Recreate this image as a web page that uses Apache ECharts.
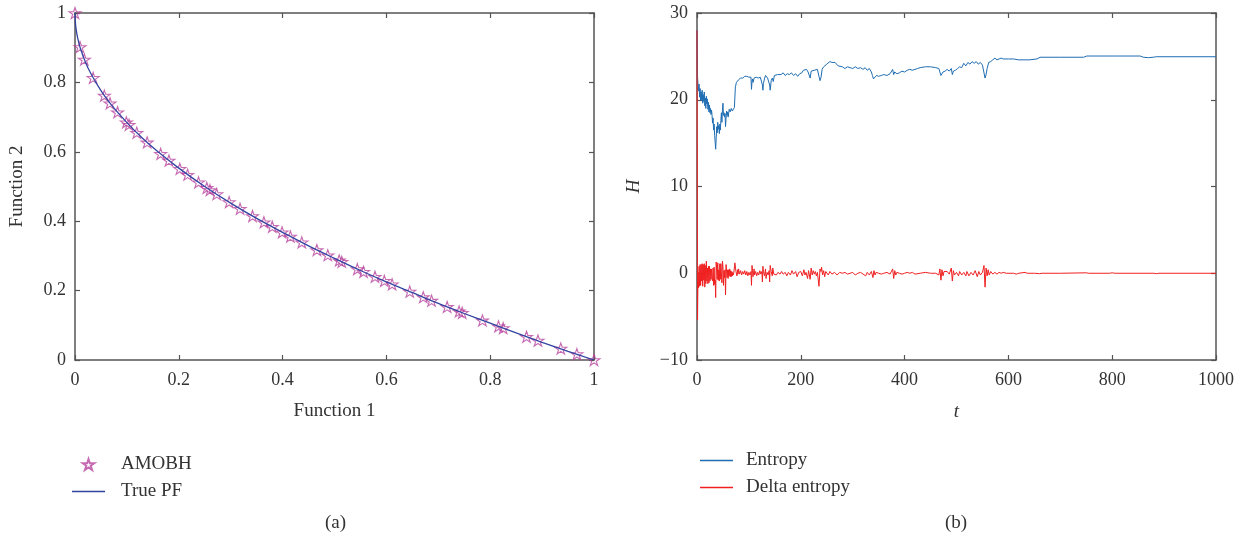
<!DOCTYPE html>
<html>
<head>
<meta charset="utf-8">
<script src="https://cdn.jsdelivr.net/npm/echarts@6/dist/echarts.min.js"></script>
<style>
  html, body { margin: 0; padding: 0; background: #fff; }
  #chart { width: 1245px; height: 542px; }
</style>
</head>
<body>
<div id="chart"></div>
<script>
// ---- Panel (a): Pareto front, Function 1 vs Function 2 ----
const amobhF1 = [0, 0.0096, 0.018, 0.035, 0.0565, 0.0674, 0.082, 0.099, 0.104, 0.119,
  0.139, 0.165, 0.181, 0.202, 0.217, 0.238, 0.254, 0.260, 0.273, 0.297,
  0.318, 0.342, 0.364, 0.380, 0.399, 0.415, 0.437, 0.466, 0.487, 0.509,
  0.514, 0.544, 0.556, 0.578, 0.596, 0.611, 0.645, 0.671, 0.687, 0.717,
  0.740, 0.746, 0.785, 0.816, 0.825, 0.870, 0.892, 0.936, 0.967, 1.0];
const amobhF2 = [1.000, 0.902, 0.866, 0.813, 0.762, 0.740, 0.714, 0.685, 0.678, 0.655,
  0.627, 0.594, 0.575, 0.551, 0.534, 0.512, 0.496, 0.490, 0.478, 0.455,
  0.436, 0.415, 0.397, 0.384, 0.368, 0.356, 0.339, 0.317, 0.302, 0.287,
  0.283, 0.262, 0.254, 0.240, 0.228, 0.218, 0.197, 0.181, 0.171, 0.153,
  0.140, 0.136, 0.114, 0.097, 0.092, 0.067, 0.056, 0.033, 0.017, 0.000];

const truePfF1 = [0, 0.0005, 0.002, 0.005, 0.01, 0.02, 0.03, 0.05, 0.07, 0.1, 0.13, 0.16,
  0.2, 0.25, 0.3, 0.35, 0.4, 0.45, 0.5, 0.55, 0.6, 0.65, 0.7, 0.75, 0.8, 0.85, 0.9, 0.95, 1];
const truePfF2 = [1, 0.978, 0.955, 0.929, 0.900, 0.859, 0.827, 0.776, 0.735, 0.684, 0.639, 0.600,
  0.553, 0.500, 0.452, 0.408, 0.368, 0.329, 0.293, 0.258, 0.225, 0.194, 0.163, 0.134, 0.106, 0.078, 0.051, 0.025, 0];

const f1Ticks = [0, 0.2, 0.4, 0.6, 0.8, 1];
const f2Ticks = [0, 0.2, 0.4, 0.6, 0.8, 1];

// ---- Panel (b): entropy H over iterations t ----
const entropy = [[0,28.0],[1,22.6],[2,22.7],[3,21.0],[4,21.8],[5,20.3],[6,21.3],[7,19.9],[8,20.9],[9,20.0],
  [10,21.1],[11,19.6],[12,20.6],[13,19.8],[14,20.9],[15,19.3],[16,20.2],[17,19.0],[18,20.4],[19,19.5],
  [20,20.1],[21,18.9],[22,19.7],[23,18.6],[24,19.4],[25,18.5],[26,19.0],[27,18.3],[28,18.8],[29,18.2],
  [30,17.3],[31,17.9],[32,16.5],[33,17.2],[34,15.9],[35,15.1],[36,14.3],[37,15.6],[38,16.9],[39,16.2],
  [40,17.4],[41,16.6],[42,17.0],[43,16.1],[44,17.2],[45,16.5],[46,17.6],[47,18.5],[48,17.4],[49,18.8],
  [50,19.6],[51,18.2],[52,18.5],[53,18.0],[54,18.4],[55,16.9],[56,17.9],[57,18.7],[58,18.2],[59,18.6],
  [60,18.0],[62,18.9],[64,18.6],[66,19.0],[68,18.7],[70,18.9],[72,19.1],[73,20.3],[74,21.5],[75,21.7],
  [76,22.0],[78,21.8],[80,22.3],[82,22.2],[84,22.5],[86,22.3],[88,22.5],[90,22.4],[92,22.7],[94,22.5],
  [96,22.7],[98,22.5],[100,22.6],[102,22.4],[104,22.6],[105,21.2],[106,22.1],[107,22.4],[108,22.0],[110,22.5],
  [112,22.4],[114,22.6],[116,22.4],[118,22.5],[120,22.7],[122,22.6],[124,22.7],[126,21.7],[127,21.1],[128,21.9],
  [130,22.4],[132,22.8],[134,22.6],[136,22.5],[138,22.7],[140,21.7],[141,21.1],[143,22.2],[145,22.5],[147,22.1],
  [149,22.8],[152,23.0],[155,22.9],[158,23.1],[162,22.9],[166,23.1],[170,22.8],[174,23.0],[178,22.9],[182,23.1],
  [186,22.8],[190,23.0],[194,22.7],[198,23.0],[202,23.1],[205,23.4],[208,23.3],[211,23.5],[214,23.2],[216,23.4],
  [218,22.5],[220,23.3],[223,23.5],[226,23.4],[229,23.6],[232,23.5],[235,22.7],[237,22.2],[239,22.6],[241,23.5],
  [244,23.8],[247,23.9],[250,24.1],[253,24.3],[256,24.4],[260,24.3],[263,24.5],[266,24.3],[269,24.4],[272,23.9],
  [275,23.7],[280,23.8],[285,23.6],[290,23.8],[295,23.7],[300,23.6],[305,23.8],[310,23.6],[315,23.7],[320,23.5],
  [324,23.7],[328,23.4],[332,23.6],[336,23.2],[338,22.8],[340,22.4],[343,22.6],[346,22.8],[350,22.7],[355,22.8],
  [360,22.9],[366,22.8],[372,23.0],[377,23.5],[379,22.9],[381,23.2],[385,23.0],[390,23.1],[395,23.3],[400,23.2],
  [405,23.4],[410,23.5],[415,23.4],[420,23.5],[425,23.6],[430,23.7],[440,23.8],[450,23.8],[460,23.7],[466,23.6],
  [468,23.8],[470,22.8],[472,22.7],[474,23.2],[478,23.3],[482,23.5],[486,23.3],[490,23.6],[492,22.9],[494,23.3],
  [498,23.4],[502,23.6],[506,23.8],[510,23.7],[514,24.2],[518,23.9],[522,24.3],[526,24.1],[530,24.4],[534,24.2],
  [538,24.4],[542,24.1],[546,24.3],[550,24.0],[553,24.2],[555,22.5],[557,22.9],[559,23.6],[562,24.3],[566,24.4],
  [570,24.6],[574,24.8],[578,24.6],[582,24.7],[586,24.8],[590,24.7],[600,24.7],[610,24.7],[620,24.6],[630,24.6],
  [640,24.6],[655,24.7],[661,24.9],[700,24.9],[745,24.9],[751,25.04],[800,25.04],[854,25.04],[860,24.9],[870,24.85],
  [879,24.9],[885,24.96],[1000,24.96]];

const deltaEntropy = [[0,28.0],[1,-5.4],[2,0.1],[3,-1.7],[4,0.8],[5,-1.5],[6,1.0],[7,-1.4],[8,1.0],[9,-0.9],
  [10,1.1],[11,-1.5],[12,1.0],[13,-0.8],[14,1.1],[15,-1.6],[16,0.9],[17,-1.2],[18,1.4],[19,-0.9],
  [20,0.6],[21,-1.2],[22,0.8],[23,-1.1],[24,0.8],[25,-0.9],[26,0.5],[27,-0.7],[28,0.5],[29,-0.6],
  [30,-0.9],[31,0.6],[32,-1.4],[33,0.7],[34,-1.3],[35,-0.8],[36,-2.8],[37,1.3],[38,1.3],[39,-0.7],
  [40,1.2],[41,-0.8],[42,0.4],[43,-0.9],[44,1.1],[45,-0.7],[46,1.1],[47,0.9],[48,-1.1],[49,1.4],
  [50,0.8],[51,-1.4],[52,0.3],[53,-0.5],[54,0.4],[55,-2.5],[56,1.0],[57,0.8],[58,-0.5],[59,0.4],
  [60,-0.6],[61,0.4],[62,-0.3],[63,0.5],[64,-0.4],[65,0.3],[66,-0.4],[67,0.2],[68,-0.3],[69,0.1],
  [70,-0.2],[71,0.1],[72,0.2],[73,1.2],[74,1.1],[75,0.2],[76,0.3],[77,-0.3],[78,0.4],[79,-0.1],[80,0.5],
  [82,-0.1],[84,0.3],[86,-0.2],[88,0.2],[90,-0.1],[92,0.3],[94,-0.2],[96,0.2],[98,-0.3],[100,0.1],
  [102,-0.2],[104,0.2],[105,-1.4],[106,0.9],[107,0.3],[108,-0.4],[110,0.5],[111,-0.2],[113,0.2],[115,-0.3],
  [117,0.1],[119,-0.2],[121,0.3],[123,-0.1],[125,0.2],[126,-1.0],[127,0.8],[128,0.2],[130,-0.3],[132,0.5],
  [133,-0.6],[135,0.1],[137,-0.2],[139,0.3],[140,-1.0],[141,0.9],[143,0.2],[145,-0.3],[146,0.6],[148,-0.1],
  [150,0.1],[153,-0.2],[156,0.1],[160,-0.1],[163,0.2],[166,-0.1],[170,0.1],[173,-0.3],[176,0.1],[180,-0.2],
  [183,0.3],[186,-0.1],[190,0.2],[193,-0.4],[196,0.1],[200,0.2],[203,-0.3],[206,0.4],[208,-0.2],[210,0.1],
  [213,-0.6],[215,0.3],[218,-0.7],[220,0.6],[222,-0.2],[224,0.3],[226,-0.1],[228,0.2],[230,-0.3],[232,0.1],
  [235,-1.5],[237,0.5],[239,0.2],[240,0.7],[242,-0.2],[244,0.3],[246,-0.4],[248,0.2],[250,0.1],[253,-0.2],
  [256,0.2],[260,-0.1],[265,0.1],[270,-0.2],[275,0.1],[280,0.0],[285,0.1],[290,-0.1],[295,0.0],[300,0.1],
  [305,-0.2],[310,0.0],[315,0.1],[320,-0.1],[325,-0.3],[328,0.1],[332,-0.2],[336,0.2],[339,-0.5],[341,0.3],
  [343,-0.2],[345,0.1],[350,0.0],[355,-0.1],[360,0.0],[366,0.1],[372,-0.1],[377,0.5],[379,-0.6],[381,0.3],
  [383,-0.2],[385,0.1],[390,0.0],[395,-0.1],[400,0.0],[405,0.1],[410,0.0],[415,0.1],[420,-0.1],[430,0.0],
  [440,0.1],[450,0.0],[460,0.0],[466,-0.2],[468,0.5],[470,-0.8],[472,0.4],[474,-0.3],[476,0.2],[478,0.0],
  [482,0.2],[486,-0.1],[490,0.6],[492,-0.9],[494,0.3],[496,-0.2],[500,0.1],[504,-0.3],[506,0.2],[510,-0.2],
  [514,0.1],[518,-0.3],[520,0.2],[524,-0.3],[528,0.1],[532,-0.2],[536,0.3],[540,-0.4],[543,0.2],[546,-0.2],
  [550,0.1],[553,0.9],[555,-1.6],[557,0.6],[559,-0.3],[561,0.4],[563,-0.2],[566,0.2],[570,-0.1],[574,0.1],
  [578,-0.1],[582,0.1],[586,0.0],[590,0.1],[596,0.0],[610,0.0],[615,-0.1],[620,0.0],[632,0.1],[636,0.0],
  [650,0.0],[660,-0.05],[665,0.0],[700,0.0],[750,0.05],[755,0.0],[795,0.0],[800,0.05],[805,0.0],[880,0.0],
  [885,-0.05],[890,0.0],[1000,0.0]];

const tTicks = [0, 200, 400, 600, 800, 1000];
const hTicks = [-10, 0, 10, 20, 30];

const FONT = 'Liberation Serif';
const TEXT = '#333';
const AXIS = '#555';

// outline star (pentagram) used for the AMOBH markers
const STAR = 'path://M0,-100L22.45,-30.9L95.1,-30.9L36.3,11.8L58.8,80.9L0,38.2L-58.8,80.9L-36.3,11.8L-95.1,-30.9L-22.45,-30.9Z';
// flat bar used as a plain line sample in the legends
const LINE_ICON = 'path://M0,0H33V1.5H0Z';

const minusFmt = v => String(v).replace('-', '\u2212');

function boxAxis(gridIndex, position, ticks, withLabels, extra) {
  const step = ticks[1] - ticks[0];
  const horizontal = position === 'bottom' || position === 'top';
  return Object.assign({
    type: 'value', gridIndex, position,
    min: ticks[0], max: ticks[ticks.length - 1], interval: step,
    axisLine: { show: true, onZero: false, lineStyle: { color: AXIS, width: 1.5 } },
    axisTick: { show: true, inside: true, length: 5, lineStyle: { color: AXIS, width: 1.2 } },
    axisLabel: { show: withLabels, color: TEXT, fontFamily: FONT, fontSize: 18,
      margin: horizontal ? 11 : 9, formatter: minusFmt },
    splitLine: { show: false }
  }, extra || {});
}

const nameStyle = (italic) => ({ color: TEXT, fontFamily: FONT, fontSize: 19, fontStyle: italic ? 'italic' : 'normal' });
const legendText = { color: TEXT, fontFamily: FONT, fontSize: 19, lineHeight: 19, padding: [0, 0, 0, 8] };

const chart = echarts.init(document.getElementById('chart'), null, { renderer: 'canvas' });

chart.setOption({
  animation: false,
  backgroundColor: '#fff',
  textStyle: { fontFamily: FONT },
  grid: [
    { left: 75, top: 13, width: 519, height: 347 },
    { left: 697, top: 13, width: 519, height: 347 }
  ],
  xAxis: [
    boxAxis(0, 'bottom', f1Ticks, true, {
      name: 'Function 1', nameLocation: 'middle', nameGap: 42, nameTextStyle: nameStyle(false)
    }),
    boxAxis(0, 'top', f1Ticks, false),
    boxAxis(1, 'bottom', tTicks, true, {
      name: 't', nameLocation: 'middle', nameGap: 42, nameTextStyle: nameStyle(true)
    }),
    boxAxis(1, 'top', tTicks, false)
  ],
  yAxis: [
    boxAxis(0, 'left', f2Ticks, true, {
      name: 'Function 2', nameLocation: 'middle', nameGap: 48, nameRotate: 90, nameTextStyle: nameStyle(false)
    }),
    boxAxis(0, 'right', f2Ticks, false),
    boxAxis(1, 'left', hTicks, true, {
      name: 'H', nameLocation: 'middle', nameGap: 54, nameRotate: 90, nameTextStyle: nameStyle(true)
    }),
    boxAxis(1, 'right', hTicks, false)
  ],
  legend: [
    {
      orient: 'vertical', left: 72, top: 455, padding: 0,
      itemWidth: 33, itemHeight: 11, itemGap: 8,
      textStyle: Object.assign({}, legendText, { padding: [0, 0, 0, 11] }),
      data: [{ name: 'AMOBH' }, { name: 'True PF', icon: LINE_ICON }]
    },
    {
      orient: 'vertical', left: 700, top: 451, padding: 0,
      itemWidth: 33, itemHeight: 11, itemGap: 8,
      textStyle: Object.assign({}, legendText, { padding: [0, 0, 0, 8] }),
      data: [{ name: 'Entropy', icon: LINE_ICON }, { name: 'Delta entropy', icon: LINE_ICON }]
    }
  ],
  graphic: [
    { type: 'text', left: 325, top: 514, style: { text: '(a)', fill: TEXT, font: '19px "Liberation Serif"' } },
    { type: 'text', left: 945, top: 514, style: { text: '(b)', fill: TEXT, font: '19px "Liberation Serif"' } }
  ],
  series: [
    {
      name: 'AMOBH', type: 'scatter', xAxisIndex: 0, yAxisIndex: 0, z: 2,
      symbol: STAR, symbolSize: [12, 11],
      itemStyle: { color: 'rgba(0,0,0,0)', borderColor: '#b8459f', borderWidth: 1.1 },
      data: amobhF1.map((x, i) => [x, amobhF2[i]])
    },
    {
      name: 'True PF', type: 'line', xAxisIndex: 0, yAxisIndex: 0, z: 3,
      symbol: 'none', smooth: 0.3,
      lineStyle: { color: '#3344a0', width: 1.3 },
      itemStyle: { color: '#3344a0' },
      data: truePfF1.map((x, i) => [x, truePfF2[i]])
    },
    {
      name: 'Entropy', type: 'line', xAxisIndex: 2, yAxisIndex: 2, z: 2,
      symbol: 'none',
      lineStyle: { color: '#1f6db3', width: 1 },
      itemStyle: { color: '#1f6db3' },
      data: entropy
    },
    {
      name: 'Delta entropy', type: 'line', xAxisIndex: 2, yAxisIndex: 2, z: 3,
      symbol: 'none',
      lineStyle: { color: '#f02020', width: 1 },
      itemStyle: { color: '#f02020' },
      data: deltaEntropy
    }
  ]
});
</script>
</body>
</html>
